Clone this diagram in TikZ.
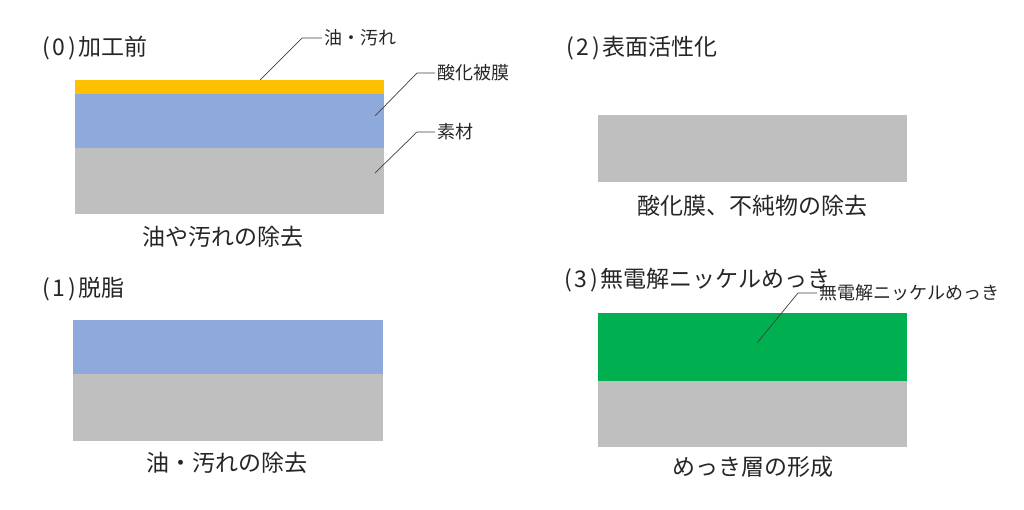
\documentclass[tikz,border=0pt]{standalone}
\usepackage{fontspec}
\newfontfamily\jpfont{Noto Sans CJK JP}
\usepackage{xcolor}
\definecolor{oilyellow}{HTML}{FFC000}
\definecolor{oxideblue}{HTML}{8EA9DB}
\definecolor{basegray}{HTML}{BFBFBF}
\definecolor{nickelgreen}{HTML}{00B050}
\definecolor{inkgray}{HTML}{262626}
\newcommand{\stepno}[1]{(\kern3pt#1\kern3pt)\kern2pt}

\begin{document}
\begin{tikzpicture}[x=1pt,y=-1pt,
    title/.style={anchor=west,inner sep=0pt,text=inkgray,font=\jpfont\fontsize{23}{26}\selectfont},
    caption/.style={inner sep=0pt,text=inkgray,font=\jpfont\fontsize{23}{26}\selectfont},
    tag/.style={anchor=west,inner sep=0pt,text=inkgray,font=\jpfont\fontsize{18}{20}\selectfont},
    leader/.style={black!75,line width=0.7pt}]
                \useasboundingbox (0,0) rectangle (1024,509);
                % (0) before processing
                \fill[oilyellow] (75,80) rectangle (384,94);
                \fill[oxideblue] (75,94) rectangle (384,148);
                \fill[basegray] (75,148) rectangle (384,214);
                \node[title] (t0) at (42,48) {\stepno{0}加工前};
                \node[caption] (c0) at (223,237) {油や汚れの除去};
                \node[tag] (oil) at (324,38) {油・汚れ};
                \node[tag] (oxide) at (437,73) {酸化被膜};
                \node[tag] (base) at (437,132) {素材};
                \coordinate (poil) at (260,80);
                \coordinate (poxide) at (375,116);
                \coordinate (pbase) at (375,173);
                \draw[leader] (poil) -- ++(42,-42) -- ([xshift=-2pt]oil.west);
                \draw[leader] (poxide) -- ++(42,-43) -- ([xshift=-2pt]oxide.west);
                \draw[leader] (pbase) -- ++(42,-41) -- ([xshift=-2pt]base.west);
                % (1) degreasing
                \fill[oxideblue] (73,320) rectangle (383,374);
                \fill[basegray] (73,374) rectangle (383,441);
                \node[title] (t1) at (42,289) {\stepno{1}脱脂};
                \node[caption] (c1) at (227,463) {油・汚れの除去};
                % (2) surface activation
                \fill[basegray] (598,115) rectangle (907,182);
                \node[title] (t2) at (566,48) {\stepno{2}表面活性化};
                \node[caption] (c2) at (752,206) {酸化膜、不純物の除去};
                % (3) electroless nickel plating
                \fill[nickelgreen] (598,313) rectangle (907,381);
                \fill[basegray] (598,381) rectangle (907,447);
                \node[title] (t3) at (564,280) {\stepno{3}無電解ニッケルめっき};
                \node[caption] (c3) at (753,467) {めっき層の形成};
                \node[tag] (nickel) at (819,293) {無電解ニッケルめっき};
                \coordinate (pnickel) at (757,343);
                \draw[leader] (pnickel) -- ++(41,-50) -- ([xshift=-2pt]nickel.west);
            \end{tikzpicture}
\end{document}
